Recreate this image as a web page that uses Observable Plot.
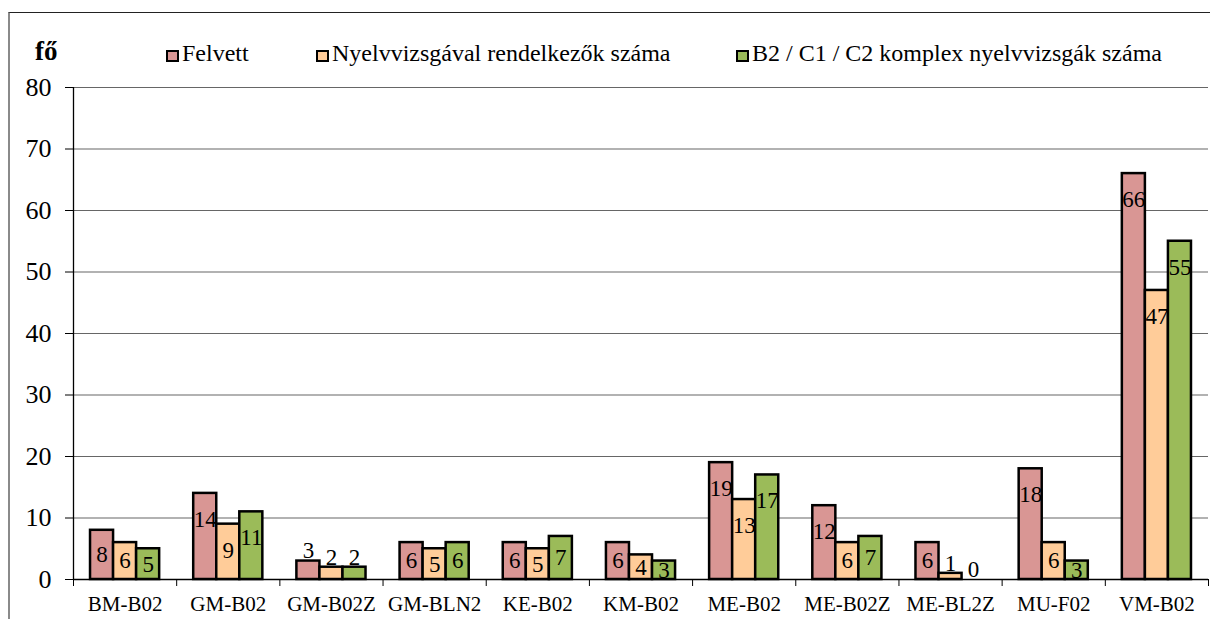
<!DOCTYPE html>
<html>
<head>
<meta charset="utf-8">
<script src="https://cdn.jsdelivr.net/npm/d3@7"></script>
<script src="https://cdn.jsdelivr.net/npm/@observablehq/plot@0.6"></script>
<style>
  html, body { margin: 0; padding: 0; background: #fff; overflow: hidden; }
  body { width: 1210px; height: 619px; position: relative; font-family: "Liberation Serif", Tinos, "Times New Roman", "DejaVu Serif", serif; }
  #frame { position: absolute; left: 8px; top: 12px; width: 1400px; height: 800px;
           border-top: 1.5px solid #222; border-left: 2.5px solid #8a8a8a; pointer-events: none; }
  #legend { position: relative; height: 70px; }
  #legend .unit { position: absolute; left: 35px; top: 36px; font-size: 27px; font-weight: bold; }
  #legend .sw { position: absolute; top: 50px; width: 13px; height: 12px; box-sizing: border-box; border: 2px solid #000; }
  #legend .lab { position: absolute; top: 40px; font-size: 24px; white-space: nowrap; }
  #chart svg { display: block; }
</style>
</head>
<body>
<div id="frame"></div>
<div id="legend"></div>
<div id="chart"></div>
<script>
// ---- data ----
const categories = ["BM-B02", "GM-B02", "GM-B02Z", "GM-BLN2", "KE-B02", "KM-B02", "ME-B02", "ME-B02Z", "ME-BL2Z", "MU-F02", "VM-B02"];
const seriesNames = ["Felvett", "Nyelvvizsgával rendelkezők száma", "B2 / C1 / C2 komplex nyelvvizsgák száma"];
const felvett     = [8, 14, 3, 6, 6, 6, 19, 12, 6, 18, 66];
const nyelvvizsga = [6,  9, 2, 5, 5, 4, 13,  6, 1,  6, 47];
const komplex     = [5, 11, 2, 6, 7, 3, 17,  7, 0,  3, 55];
const yTicks = [0, 10, 20, 30, 40, 50, 60, 70, 80];
const unitLabel = "fő";
const colors = ["#D99694", "#FFCC99", "#9BBB59"];

const FONT = "'Liberation Serif', Tinos, 'Times New Roman', 'DejaVu Serif', serif";

// ---- legend (HTML above the SVG) ----
const legend = document.getElementById("legend");
const unit = document.createElement("span");
unit.className = "unit"; unit.textContent = unitLabel; legend.appendChild(unit);
const legendX = [166, 316, 736];
seriesNames.forEach((name, s) => {
  const sw = document.createElement("span");
  sw.className = "sw"; sw.style.left = legendX[s] + "px"; sw.style.background = colors[s];
  legend.appendChild(sw);
  const lab = document.createElement("span");
  lab.className = "lab"; lab.style.left = (legendX[s] + 16) + "px"; lab.textContent = name;
  legend.appendChild(lab);
});

// ---- table ----
const series = [felvett, nyelvvizsga, komplex];
const groupFrac = 0.67;
const barW = groupFrac / series.length;
const rows = [];
categories.forEach((cat, i) => {
  const gmax = d3.max(series, arr => arr[i]);
  series.forEach((arr, s) => {
    const x1 = i + (1 - groupFrac) / 2 + s * barW;
    rows.push({cat, i, s, name: seriesNames[s], value: arr[i], x1, x2: x1 + barW, xm: x1 + barW / 2,
               outside: arr[i] <= 2 || (arr[i] <= 3 && gmax <= 3)});
  });
});

const H = 549, marginTop = 17, marginBottom = 40;
const pxPerUnit = (H - marginTop - marginBottom) / 80;
const insideOffset = 26 / pxPerUnit;

const plot = Plot.plot({
  width: 1210,
  height: H,
  marginLeft: 73,
  marginRight: 2,
  marginTop,
  marginBottom,
  style: {fontFamily: FONT, background: "#fff", color: "#000", overflow: "visible"},
  x: {type: "linear", domain: [0, categories.length], axis: null},
  y: {domain: [0, 80], axis: null},
  color: {domain: seriesNames, range: colors},
  marks: [
    Plot.ruleY(yTicks.filter(t => t > 0), {stroke: "#666", strokeWidth: 1.2}),
    Plot.rect(rows.filter(d => d.value > 0), {x1: "x1", x2: "x2", y1: 0, y2: "value", fill: "name", stroke: "#000", strokeWidth: 2.5}),
    Plot.ruleY([0], {stroke: "#000", strokeWidth: 1.3}),
    Plot.ruleX([0], {y1: 0, y2: 80, stroke: "#000", strokeWidth: 1.3}),
    Plot.axisY({ticks: yTicks, tickSize: 8, tickPadding: 14, fontSize: 26, stroke: "#000", label: null}),
    Plot.axisX({ticks: d3.range(categories.length + 1), tickSize: 7, tickFormat: () => "", stroke: "#000", label: null}),
    Plot.axisX({ticks: categories.map((c, i) => i + 0.5), tickSize: 0, tickPadding: 17, fontSize: 21, label: null,
                tickFormat: v => categories[Math.round(v - 0.5)]}),
    Plot.text(rows.filter(d => !d.outside), {x: "xm", y: d => Math.max(d.value - insideOffset, d.value / 2),
                text: d => String(d.value), fontSize: 23, fill: "#000"}),
    Plot.text(rows.filter(d => d.outside), {x: "xm", y: "value", dy: -10,
                text: d => String(d.value), fontSize: 23, fill: "#000"})
  ]
});
document.getElementById("chart").appendChild(plot);
</script>
</body>
</html>
